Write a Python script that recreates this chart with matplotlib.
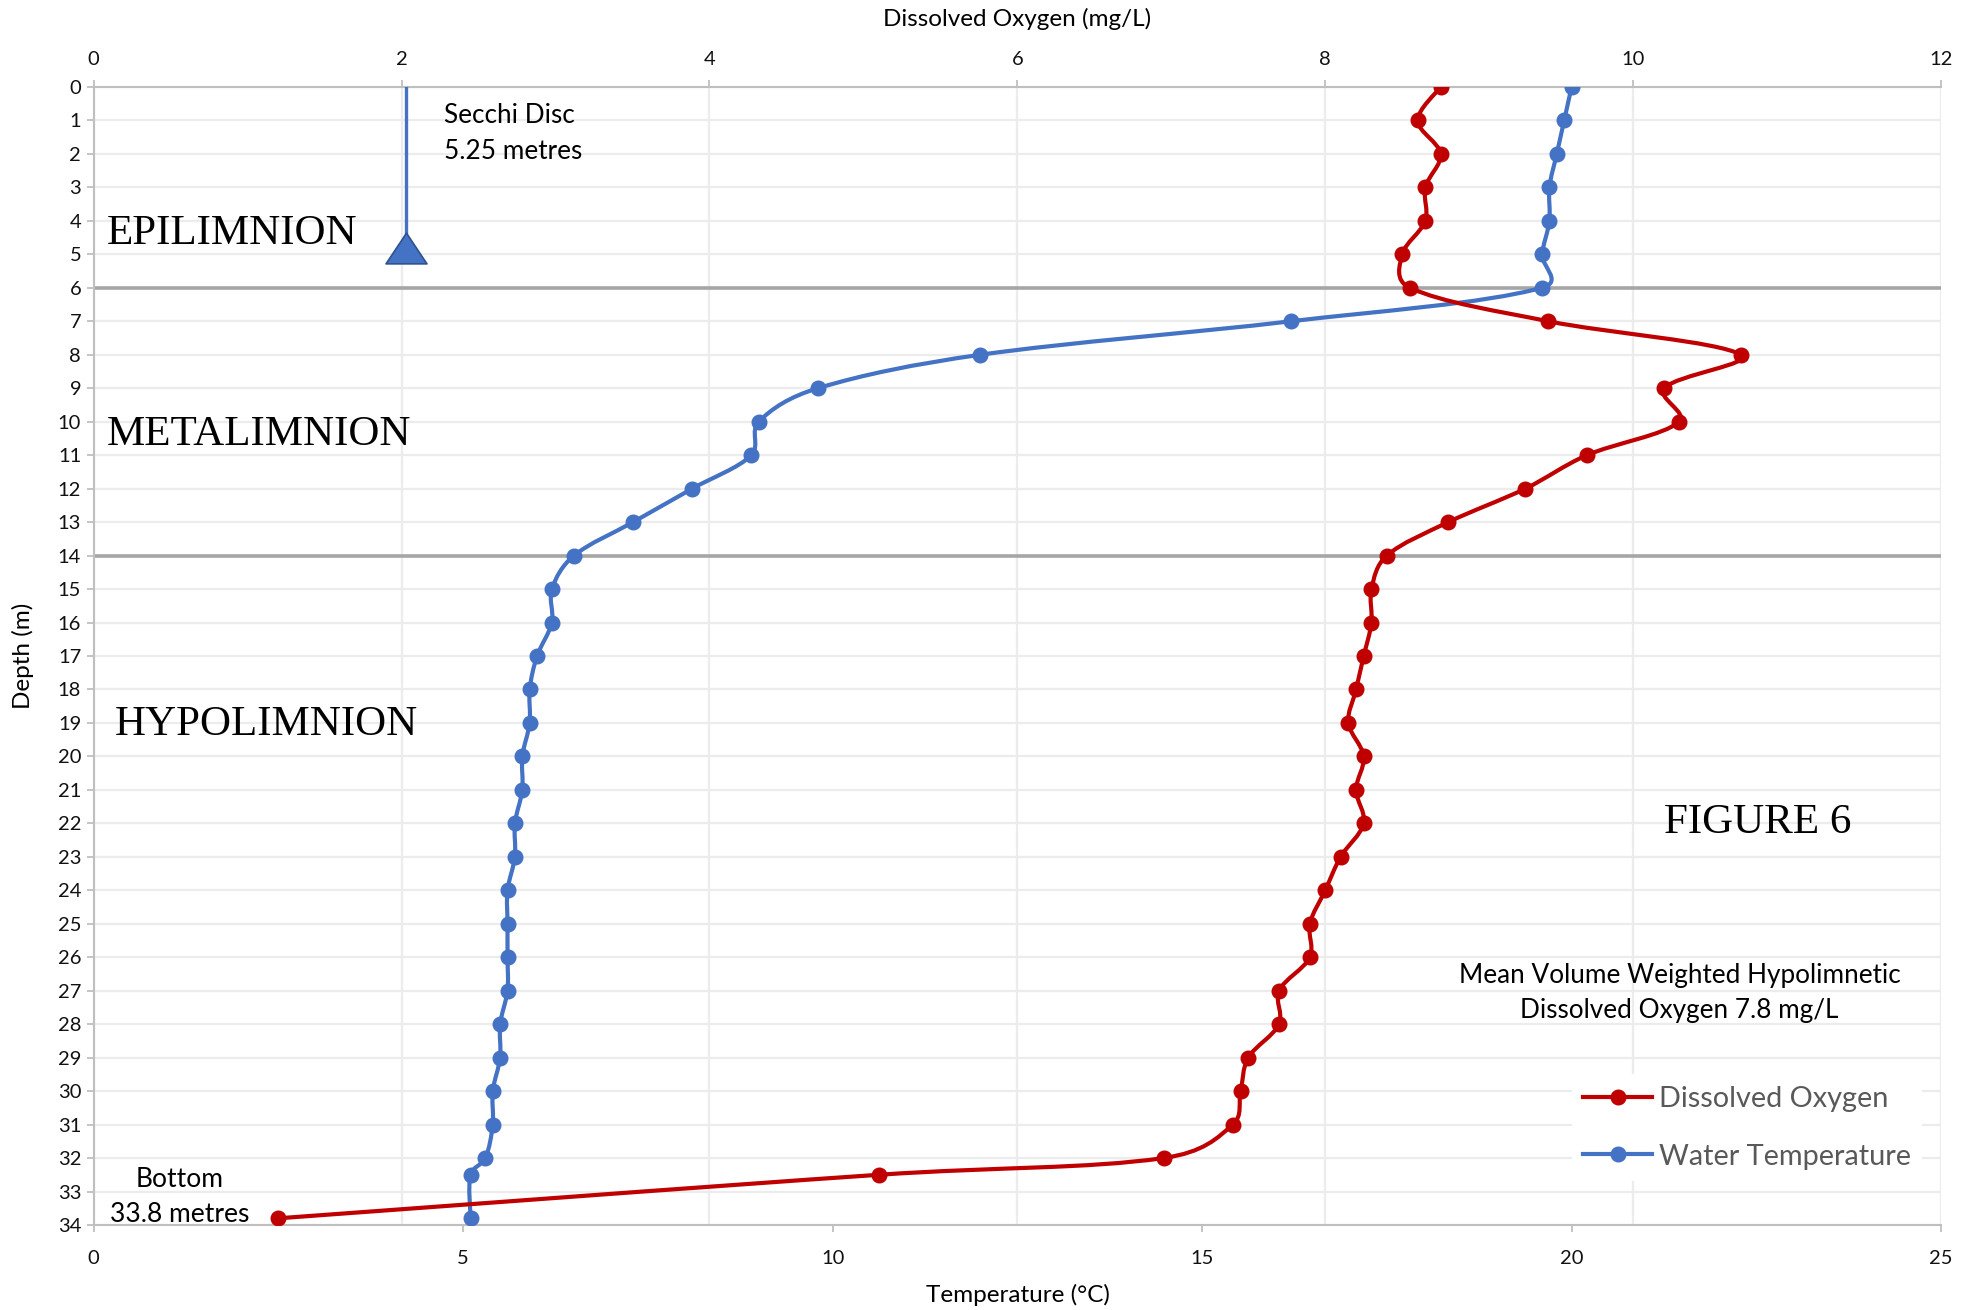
import numpy as np
import matplotlib
matplotlib.use('Agg')
import matplotlib.pyplot as plt
from matplotlib.path import Path
from matplotlib.patches import PathPatch
from matplotlib.lines import Line2D
from matplotlib.markers import MarkerStyle

# profile data
depth = list(range(33)) + [32.5, 33.8]
water_temp = [20.0, 19.9, 19.8, 19.7, 19.7, 19.6, 19.6, 16.2, 12.0, 9.8, 9.0, 8.9, 8.1, 7.3,
              6.5, 6.2, 6.2, 6.0, 5.9, 5.9, 5.8, 5.8, 5.7, 5.7, 5.6, 5.6, 5.6, 5.6,
              5.5, 5.5, 5.4, 5.4, 5.3, 5.1, 5.1]
diss_oxygen = [8.75, 8.6, 8.75, 8.65, 8.65, 8.5, 8.55, 9.45, 10.7, 10.2, 10.3, 9.7, 9.3, 8.8,
               8.4, 8.3, 8.3, 8.25, 8.2, 8.15, 8.25, 8.2, 8.25, 8.1, 8.0, 7.9, 7.9, 7.7,
               7.7, 7.5, 7.45, 7.4, 6.95, 5.1, 1.2]
layer_bounds = [6, 14]
secchi_do = 2.03
secchi_marker_depth = 4.8

temp_ticks = [0, 5, 10, 15, 20, 25]
do_ticks = [0, 2, 4, 6, 8, 10, 12]
depth_ticks = list(range(35))

RED = '#C00000'
BLUE = '#4472C4'
SANS = ['Lato', 'DejaVu Sans']
SERIF = ['Liberation Serif', 'DejaVu Serif']
plt.rcParams['font.family'] = SANS


def smooth_path(x, y, tr, alpha=0.5):
    # excel-like smoothed line: centripetal catmull-rom as cubic beziers
    pts = np.column_stack([x, y]).astype(float)
    disp = tr.transform(pts)
    seg = np.hypot(*np.diff(disp, axis=0).T) ** alpha
    n = len(pts)
    tang = np.zeros_like(pts)
    tang[0] = (pts[1] - pts[0]) / (2 * seg[0])
    tang[-1] = (pts[-1] - pts[-2]) / (2 * seg[-1])
    for i in range(1, n - 1):
        tang[i] = (pts[i + 1] - pts[i - 1]) / (seg[i - 1] + seg[i])
    verts = [pts[0]]
    codes = [Path.MOVETO]
    for i in range(n - 1):
        verts += [pts[i] + tang[i] * seg[i] / 3, pts[i + 1] - tang[i + 1] * seg[i] / 3, pts[i + 1]]
        codes += [Path.CURVE4] * 3
    return Path(verts, codes)


fig = plt.figure(figsize=(19.77, 13.1), dpi=100)
ax = fig.add_axes([0.0474, 0.0649, 0.9344, 0.8687])
ax2 = ax.twiny()
# top axis sits behind so its vertical grid stays under the lines
ax2.set_zorder(0)
ax.set_zorder(1)
ax.patch.set_visible(False)

ax.set_xlim(0, 25)
ax.set_ylim(34, 0)
ax2.set_xlim(0, 12)
ax.set_xticks(temp_ticks)
ax.set_yticks(depth_ticks)
ax2.set_xticks(do_ticks)

ax.grid(axis='y', color='#ECECEC', lw=1.6)
ax.set_axisbelow(True)
ax2.grid(axis='x', color='#ECECEC', lw=1.6)

ax.spines['right'].set_visible(False)
for sp in ['left', 'bottom', 'top']:
    ax.spines[sp].set_color('#BFBFBF')
    ax.spines[sp].set_linewidth(1.5)
for sp in ['top', 'left', 'bottom', 'right']:
    ax2.spines[sp].set_visible(False)

ax.tick_params(axis='both', colors='#BFBFBF', labelcolor='#111111', labelsize=14.5,
               length=5, width=1.3, pad=4)
ax.tick_params(axis='x', pad=13)
ax2.tick_params(axis='x', colors='#BFBFBF', labelcolor='#111111', labelsize=14.5,
                length=5, width=1.3, pad=9)

for b in layer_bounds:
    ax.axhline(b, color='#A6A6A6', lw=2.6, zorder=1.5)

# series
temp_tr = ax.transData
do_tr = ax2.transData
ax.add_patch(PathPatch(smooth_path(water_temp, depth, temp_tr), fill=False, ec=BLUE, lw=3.0,
                       zorder=3, capstyle='round', joinstyle='round'))
ax.plot(water_temp, depth, 'o', color=BLUE, ms=10.5, zorder=3.1)

ax.add_patch(PathPatch(smooth_path(diss_oxygen, depth, do_tr), fill=False, ec=RED, lw=3.0,
                       zorder=4, transform=do_tr, capstyle='round', joinstyle='round'))
ax.plot(diss_oxygen, depth, 'o', color=RED, ms=10.5, zorder=4.1, transform=do_tr)

# secchi disc
ax.plot([secchi_do, secchi_do], [0, secchi_marker_depth - 0.3], color=BLUE, lw=2.4,
        transform=do_tr, zorder=5)
tri = MarkerStyle(Path([(-1, -0.75), (1, -0.75), (0, 0.75), (-1, -0.75)],
                       [Path.MOVETO, Path.LINETO, Path.LINETO, Path.CLOSEPOLY]))
ax.plot([secchi_do], [secchi_marker_depth], marker=tri, ms=29.5, color=BLUE,
        mec='#2F528F', mew=1.2, transform=do_tr, zorder=5, ls='none')

ax.set_xlim(0, 25)
ax.set_ylim(34, 0)

# annotations
ax.text(4.74, 0.84, 'Secchi Disc', fontsize=18.8, va='center', ha='left')
ax.text(4.74, 1.93, '5.25 metres', fontsize=18.8, va='center', ha='left')
ax.text(1.16, 32.63, 'Bottom', fontsize=19, va='center', ha='center')
ax.text(1.16, 33.7, '33.8 metres', fontsize=19, va='center', ha='center')
ax.text(0.18, 4.38, 'EPILIMNION', family=SERIF, fontsize=31, va='center', ha='left')
ax.text(0.18, 10.38, 'METALIMNION', family=SERIF, fontsize=31, va='center', ha='left')
ax.text(0.28, 19.06, 'HYPOLIMNION', family=SERIF, fontsize=31, va='center', ha='left')
ax.text(22.52, 21.99, 'FIGURE 6', family=SERIF, fontsize=31, va='center', ha='center')
ax.text(21.46, 26.55, 'Mean Volume Weighted Hypolimnetic', fontsize=18.8, va='center', ha='center')
ax.text(21.46, 27.6, 'Dissolved Oxygen 7.8 mg/L', fontsize=18.8, va='center', ha='center')

handles = [Line2D([], [], color=RED, lw=3.0, marker='o', ms=10.5),
           Line2D([], [], color=BLUE, lw=3.0, marker='o', ms=10.5)]
leg = ax.legend(handles, ['Dissolved Oxygen', 'Water Temperature'], loc='upper left',
                bbox_to_anchor=(0.80, 0.1325), borderaxespad=0, frameon=True,
                facecolor='white', edgecolor='none', framealpha=1, fontsize=20.8,
                handlelength=2.4, handletextpad=0.22, labelspacing=1.1, borderpad=0.4,
                labelcolor='#595959')
leg.set_zorder(6)

fig.text(0.5147, 0.9855, 'Dissolved Oxygen (mg/L)', fontsize=17.5, ha='center', va='center')
fig.text(0.5147, 0.0115, 'Temperature (°C)', fontsize=17.5, ha='center', va='center')
fig.text(0.0118, 0.4992, 'Depth (m)', fontsize=17.5, ha='center', va='center', rotation=90)

fig.savefig('out.png', dpi=100, facecolor='white')
